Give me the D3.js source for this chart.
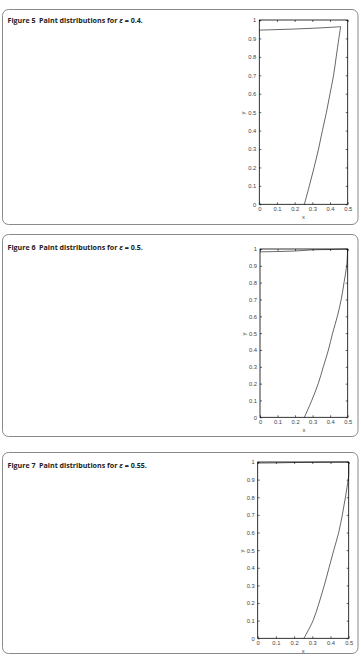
<!DOCTYPE html>
<html><head><meta charset="utf-8">
<script src="https://cdn.jsdelivr.net/npm/d3@7"></script>
<style>body{margin:0;background:#fff}svg{display:block}</style>
</head><body><svg id="c" width="361" height="664"></svg>
<script>
// Titles
const figNums = ["Figure 5", "Figure 6", "Figure 7"];
const epsValues = ["0.4", "0.5", "0.55"];
// Tick labels
const xTicks = [0, 0.1, 0.2, 0.3, 0.4, 0.5];
const yTicks = [0, 0.1, 0.2, 0.3, 0.4, 0.5, 0.6, 0.7, 0.8, 0.9, 1];
// Figure 5 (eps = 0.4): top edge and side curve
const f5topX = [0, 0.1, 0.2, 0.3, 0.4, 0.46];
const f5topY = [0.945, 0.948, 0.951, 0.955, 0.96, 0.964];
const f5sideX = [0.46, 0.45, 0.435, 0.42, 0.40, 0.38, 0.357, 0.335, 0.31, 0.283, 0.255];
const f5sideY = [0.964, 0.9, 0.8, 0.7, 0.6, 0.5, 0.4, 0.3, 0.2, 0.1, 0];
// Figure 6 (eps = 0.5)
const f6topX = [0, 0.1, 0.2, 0.3, 0.4, 0.5];
const f6topY = [0.983, 0.985, 0.988, 0.995, 0.997, 1.0];
const f6sideX = [0.5, 0.494, 0.479, 0.463, 0.441, 0.414, 0.39, 0.361, 0.332, 0.295, 0.253];
const f6sideY = [1.0, 0.9, 0.8, 0.7, 0.6, 0.5, 0.4, 0.3, 0.2, 0.1, 0];
// Figure 7 (eps = 0.55)
const f7topX = [0, 0.1, 0.2, 0.3, 0.4, 0.5];
const f7topY = [0.994, 0.995, 0.997, 0.998, 0.999, 1.0];
const f7sideX = [0.5, 0.5, 0.497, 0.482, 0.465, 0.445, 0.418, 0.392, 0.366, 0.337, 0.304, 0.254];
const f7sideY = [1.0, 0.93, 0.9, 0.8, 0.7, 0.6, 0.5, 0.4, 0.3, 0.2, 0.1, 0];

const topXs = [f5topX, f6topX, f7topX], topYs = [f5topY, f6topY, f7topY];
const sideXs = [f5sideX, f6sideX, f7sideX], sideYs = [f5sideY, f6sideY, f7sideY];

const panels = [
  {top: 9, bottom: 224, pl: 259.3, pr: 347.7, pt: 20, pb: 204.3, tb: 22.5},
  {top: 234, bottom: 436, pl: 260, pr: 347.7, pt: 249, pb: 417.3, tb: 249.5},
  {top: 452, bottom: 653, pl: 257.7, pr: 348.7, pt: 462, pb: 638.3, tb: 467.5}
];

const svg = d3.select("#c");
const fmt = d => d === 0 ? "0" : d === 1 ? "1" : d3.format(".1f")(d);
const tickFont = "Arial, 'Liberation Sans', sans-serif";

panels.forEach((p, i) => {
  const g = svg.append("g");
  g.append("rect").attr("x", 2.5).attr("y", p.top + 0.5).attr("width", 355.5).attr("height", p.bottom - p.top)
    .attr("rx", 6).attr("fill", "none").attr("stroke", "#8a8a8a").attr("stroke-width", 1);

  const t = g.append("text").attr("x", 7.5).attr("y", p.tb)
    .attr("font-family", "'Open Sans', sans-serif").attr("font-size", 7.1).attr("font-weight", "bold").attr("fill", "#222");
  t.append("tspan").text(figNums[i] + "\u2002Paint distributions for ");
  t.append("tspan").attr("font-style", "italic").text("\u03B5");
  t.append("tspan").text(" = " + epsValues[i] + ".");

  const x = d3.scaleLinear().domain([0, 0.5]).range([p.pl, p.pr]);
  const y = d3.scaleLinear().domain([0, 1]).range([p.pb, p.pt]);

  const styleAxis = sel => {
    sel.select(".domain").remove();
    sel.selectAll("line").attr("stroke", "#000").attr("stroke-width", 0.6);
    sel.selectAll("text").attr("font-family", tickFont).attr("font-size", 5.8).attr("fill", "#444");
  };
  g.append("g").attr("transform", `translate(0,${p.pb})`)
    .call(d3.axisBottom(x).tickValues(xTicks).tickFormat(fmt).tickSizeInner(-2).tickPadding(3)).call(styleAxis);
  g.append("g").attr("transform", `translate(0,${p.pt})`)
    .call(d3.axisTop(x).tickValues(xTicks).tickFormat("").tickSizeInner(-2)).call(styleAxis);
  g.append("g").attr("transform", `translate(${p.pl},0)`)
    .call(d3.axisLeft(y).tickValues(yTicks).tickFormat(fmt).tickSizeInner(-2).tickPadding(3)).call(styleAxis);
  g.append("g").attr("transform", `translate(${p.pr},0)`)
    .call(d3.axisRight(y).tickValues(yTicks).tickFormat("").tickSizeInner(-2)).call(styleAxis);

  g.append("rect").attr("x", p.pl).attr("y", p.pt).attr("width", p.pr - p.pl).attr("height", p.pb - p.pt)
    .attr("fill", "none").attr("stroke", "#000").attr("stroke-width", 0.8);

  const line = d3.line().x(d => x(d[0])).y(d => y(d[1])).curve(d3.curveCatmullRom);
  const topPts = topXs[i].map((v, k) => [v, topYs[i][k]]);
  const sidePts = sideXs[i].map((v, k) => [v, sideYs[i][k]]);
  [topPts, sidePts].forEach(pts => {
    g.append("path").datum(pts).attr("d", line)
      .attr("fill", "none").attr("stroke", "#000").attr("stroke-width", 0.6);
  });

  g.append("text").attr("x", (p.pl + p.pr) / 2).attr("y", p.pb + 15)
    .attr("text-anchor", "middle").attr("font-family", tickFont).attr("font-size", 5.8).attr("fill", "#444").text("x");
  g.append("text").attr("transform", `translate(${p.pl - 14},${(p.pt + p.pb) / 2 + 1}) rotate(-90)`)
    .attr("text-anchor", "middle").attr("font-family", tickFont).attr("font-size", 5.8).attr("fill", "#444").text("y");
});
</script></body></html>
